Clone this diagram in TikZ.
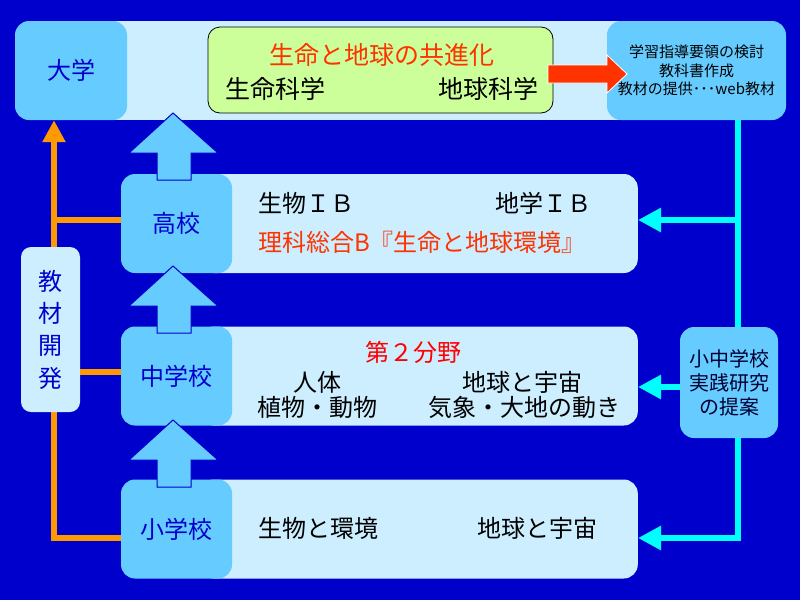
\documentclass[tikz,border=0pt]{standalone}
\usepackage{fontspec}
\setmainfont{Noto Sans CJK JP}
\usetikzlibrary{arrows.meta}
\definecolor{bgblue}{HTML}{0000CC}
\definecolor{boxblue}{HTML}{66CCFF}
\definecolor{paleblue}{HTML}{CCEEFF}
\definecolor{palegreen}{HTML}{CCFF99}
\definecolor{redtext}{HTML}{FF3300}
\definecolor{orangeline}{HTML}{FF9900}
\definecolor{cyanline}{HTML}{00FFFF}
\definecolor{navytext}{HTML}{000033}
\tikzstyle{level}=[fill=boxblue,rounded corners=14pt,inner sep=0pt,minimum width=111pt,minimum height=99pt,text=bgblue,font=\fontsize{24}{28}\selectfont]

\begin{document}
\begin{tikzpicture}[x=1pt,y=-1pt]
\tikzstyle{panel}=[fill=paleblue,rounded corners=14pt,anchor=east,minimum width=438pt,minimum height=99pt]
\tikzstyle{sidebox}=[fill=boxblue,rounded corners=14pt,inner sep=0pt,align=center]
\tikzstyle{item}=[anchor=west,inner sep=0pt,font=\fontsize{24}{28}\selectfont]
\tikzstyle{uparrow}=[fill=boxblue,draw=bgblue,line width=1pt]
\tikzstyle{oline}=[draw=orangeline,line width=6pt]
\tikzstyle{cline}=[draw=cyanline,line width=6pt,-{Triangle[width=23pt,length=23pt]}]
  \useasboundingbox (0,0) rectangle (800,600);
  \fill[bgblue] (0,0) rectangle (800,600);
  % top band
  \fill[paleblue] (110,21) rectangle (700,120);
  \node[fill=palegreen,draw=black,line width=0.8pt,rounded corners=12pt,
        minimum width=345pt,minimum height=86pt] (life) at (380.5,70) {};
  \node[sidebox,minimum width=179pt,minimum height=99pt,
        font=\fontsize{15}{18.5}\selectfont] (guide) at (696.5,70.5)
       {学習指導要領の検討\\教科書作成\\教材の提供･･･web教材};
  \node[level,minimum width=112pt] (dai) at (71,70.5) {大学};
  \node[text=redtext,font=\fontsize{25}{30}\selectfont] (evo) at (382,55) {生命と地球の共進化};
  \node[item,font=\fontsize{25}{30}\selectfont] (lsci) at (225,89) {生命科学};
  \node[item,font=\fontsize{25}{30}\selectfont] (esci) at (438,89) {地球科学};
  % red arrow
  \filldraw[fill=redtext,draw=white,line width=0.8pt]
    (548,65) -- (607,65) -- (607,55) -- (627,74) -- (607,93) -- (607,83) -- (548,83) -- cycle;
  % school levels
  \foreach \ypos/\name in {223.5/kp, 376/cp, 529/sp}
    \node[panel] (\name) at (638,\ypos) {};
  \foreach \place/\name/\word in {{(176.5,223.5)/kou/高校},
                                  {(176.5,376)/chu/中学校},
                                  {(176.5,529)/sho/小学校}}
    \node[level] (\name) at \place {\word};
  \foreach \apex/\foot in {113/180, 266/333, 420/487}
    \path[uparrow] (173,\apex) -- (218,\apex+40) -- (191,\apex+40) -- (191,\foot)
      -- (157,\foot) -- (157,\apex+40) -- (129,\apex+40) -- cycle;
  % subjects
  \foreach \place/\name/\word in {{(258,203)/bio/生物ＩＢ},
                                  {(495,203)/geo/地学ＩＢ},
                                  {(293,382)/body/人体},
                                  {(257,407)/plant/植物・動物},
                                  {(462,382)/earth/地球と宇宙},
                                  {(428,407)/weather/気象・大地の動き},
                                  {(258,528)/env/生物と環境},
                                  {(477,528)/space/地球と宇宙}}
    \node[item] (\name) at \place {\word};
  \node[item,text=redtext] (sogo) at (258,242) {理科総合B『生命と地球環境』};
  \node[item,text=red] (bunya) at (365,352) {第２分野};
  % materials development
  \coordinate (ox) at (54,538);
  \draw[oline,-{Triangle[width=22pt,length=22pt]}] (sho.west |- ox) -- (ox) -- (ox |- dai.south);
  \draw[oline] (kou.west) ++(0,-4) coordinate (kb) -- (kb -| ox);
  \node[fill=paleblue,rounded corners=10pt,inner sep=0pt,minimum width=59pt,minimum height=165pt,
        text=bgblue,align=center,font=\fontsize{24}{32.3}\selectfont] (kyo) at (50.5,329.5)
       {教\\材\\開\\発};
  \draw[oline] (chu.west) ++(0,-4) coordinate (cb) -- (cb -| kyo.east);
  % practice research
  \node[sidebox,minimum width=98pt,minimum height=111pt,text=navytext,
        font=\fontsize{20}{24}\selectfont] (teian) at (729,382.5) {小中学校\\実践研究\\の提案};
  \coordinate (cx) at (738,538);
  \draw[draw=cyanline,line width=6pt] (guide.south -| cx) -- (teian.north -| cx);
  \path (kp.east) ++(0,-3.5) coordinate (ka);
  \draw[cline] (ka -| cx) -- (ka);
  \path (teian.west) ++(0,4.5) coordinate (ta);
  \draw[cline] (ta) -- (ta -| cp.east);
  \draw[cline] (teian.south -| cx) -- (cx) -- (cx -| sp.east);
\end{tikzpicture}
\end{document}
